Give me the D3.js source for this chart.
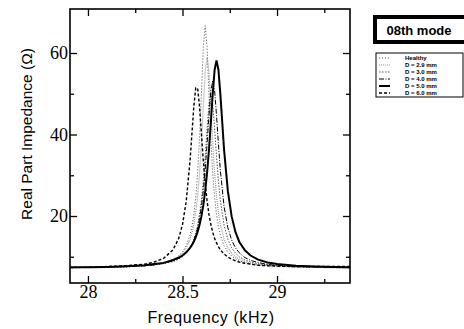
<!DOCTYPE html>
<html>
<head>
<meta charset="utf-8">
<script src="https://cdn.jsdelivr.net/npm/d3@7"></script>
<style>
  body { margin: 0; background: #fff; }
  svg { display: block; }
  .tick text { font-family: "Liberation Serif", serif; font-size: 18px; fill: #000; }
  .axis path { display: none; }
  .axis line { stroke: #000; stroke-width: 1.3; }
</style>
</head>
<body>
<div id="chart"></div>
<script>
const freq = [27.9, 28.0, 28.1, 28.2, 28.3, 28.35, 28.4, 28.45, 28.48, 28.5, 28.52, 28.54, 28.55, 28.56,
  28.57, 28.58, 28.59, 28.6, 28.61, 28.62, 28.63, 28.64, 28.65, 28.66, 28.67, 28.68, 28.69, 28.7,
  28.72, 28.74, 28.76, 28.78, 28.8, 28.83, 28.86, 28.9, 28.95, 29.0, 29.1, 29.2, 29.3, 29.4];

const healthy = [7.3, 7.4, 7.4, 7.5, 7.8, 8.0, 8.4, 9.2, 10.2, 11.2, 12.7, 15.4, 17.5, 20.4,
  24.5, 30.4, 38.9, 50.0, 61.4, 66.7, 61.4, 50.0, 38.9, 30.4, 24.5, 20.4, 17.5, 15.4,
  12.7, 11.2, 10.2, 9.5, 9.0, 8.6, 8.2, 8.0, 7.8, 7.6, 7.5, 7.4, 7.3, 7.3];
const d29 = [7.3, 7.4, 7.4, 7.6, 7.8, 8.0, 8.4, 9.2, 10.0, 10.9, 12.2, 14.3, 15.9, 18.0,
  20.9, 24.9, 30.4, 37.8, 46.8, 55.3, 59.0, 55.3, 46.8, 37.8, 30.4, 24.9, 20.9, 18.0,
  14.3, 12.2, 10.9, 10.0, 9.4, 8.8, 8.4, 8.1, 7.9, 7.7, 7.5, 7.4, 7.3, 7.3];
const d30 = [7.3, 7.4, 7.4, 7.5, 7.8, 8.0, 8.3, 8.8, 9.4, 10.0, 10.9, 12.2, 13.1, 14.3,
  15.8, 17.7, 20.4, 23.9, 28.6, 34.6, 41.4, 47.5, 50.0, 47.5, 41.4, 34.6, 28.6, 23.9,
  17.7, 14.3, 12.2, 10.9, 10.0, 9.2, 8.7, 8.3, 8.0, 7.8, 7.5, 7.4, 7.4, 7.3];
const d40 = [7.3, 7.4, 7.5, 7.6, 7.8, 8.0, 8.4, 9.0, 9.6, 10.2, 11.0, 12.2, 13.1, 14.1,
  15.4, 17.1, 19.4, 22.3, 26.2, 31.3, 37.7, 44.7, 50.7, 53.2, 50.7, 44.7, 37.7, 31.3,
  22.3, 17.1, 14.1, 12.2, 11.0, 9.8, 9.1, 8.6, 8.1, 7.9, 7.6, 7.5, 7.4, 7.3];
const d50 = [7.4, 7.4, 7.5, 7.7, 7.9, 8.2, 8.5, 9.2, 9.8, 10.3, 11.1, 12.2, 12.9, 13.7,
  14.8, 16.1, 17.8, 19.9, 22.6, 26.1, 30.6, 36.2, 43.0, 50.1, 55.9, 58.2, 55.9, 50.1,
  36.2, 26.1, 19.9, 16.1, 13.7, 11.6, 10.3, 9.3, 8.6, 8.2, 7.8, 7.6, 7.5, 7.4];
const d60 = [7.4, 7.4, 7.6, 7.8, 8.2, 8.7, 9.6, 11.7, 14.5, 17.9, 23.7, 33.6, 40.3, 46.9,
  51.4, 51.4, 46.9, 40.3, 33.6, 28.1, 23.7, 20.4, 17.9, 16.0, 14.5, 13.4, 12.5, 11.7,
  10.7, 9.9, 9.4, 9.0, 8.7, 8.4, 8.2, 7.9, 7.8, 7.7, 7.6, 7.6, 7.6, 7.6];

const seriesNames = ["Healthy", "D = 2.9 mm", "D = 3.0 mm", "D = 4.0 mm", "D = 5.0 mm", "D = 6.0 mm"];
const seriesValues = [healthy, d29, d30, d40, d50, d60];
const xMajor = [28, 28.5, 29];
const xMinor = [28.25, 28.75, 29.25];
const yMajor = [20, 40, 60];
const yMinor = [10, 30, 50];

const styles = [
  { stroke: "#444", width: 1, dash: "1,2" },
  { stroke: "#999", width: 1.2, dash: "1,1" },
  { stroke: "#555", width: 1, dash: "1.5,1.5" },
  { stroke: "#000", width: 1, dash: "5,1.5,1,1.5" },
  { stroke: "#000", width: 2, dash: null },
  { stroke: "#000", width: 1.4, dash: "3,2" }
];

const W = 464, H = 329;
const margin = { left: 70, right: 350, top: 9, bottom: 283 };

const svg = d3.select('#chart').append('svg')
  .attr('width', W)
  .attr('height', H);

const x = d3.scaleLinear().domain([27.905, 29.386]).range([margin.left, margin.right]);
const y = d3.scaleLinear().domain([3.56, 70.8]).range([margin.bottom, margin.top]);

svg.append('clipPath').attr('id', 'clip')
  .append('rect')
  .attr('x', margin.left).attr('y', margin.top)
  .attr('width', margin.right - margin.left).attr('height', margin.bottom - margin.top);

const plot = svg.append('g');

const line = d3.line()
  .x((d, i) => x(freq[i]))
  .y(d => y(d));

plot.selectAll('.curve')
  .data(seriesValues)
  .enter()
  .append('path')
  .attr('class', 'curve')
  .attr('clip-path', 'url(#clip)')
  .attr('d', d => line(d))
  .attr('fill', 'none')
  .attr('stroke', (d, i) => styles[i].stroke)
  .attr('stroke-width', (d, i) => styles[i].width)
  .attr('stroke-dasharray', (d, i) => styles[i].dash);

// axes, ticks pointing inward on all four sides
svg.append('g').attr('class', 'axis')
  .attr('transform', `translate(0, ${margin.bottom})`)
  .call(d3.axisBottom(x).tickValues(xMajor).tickSize(-7).tickPadding(2).tickFormat(d3.format('')));
svg.append('g').attr('class', 'axis')
  .attr('transform', `translate(0, ${margin.bottom})`)
  .call(d3.axisBottom(x).tickValues(xMinor).tickSize(-4).tickFormat(''));
svg.append('g').attr('class', 'axis')
  .attr('transform', `translate(0, ${margin.top})`)
  .call(d3.axisTop(x).tickValues(xMajor).tickSize(-7).tickFormat(''));
svg.append('g').attr('class', 'axis')
  .attr('transform', `translate(0, ${margin.top})`)
  .call(d3.axisTop(x).tickValues(xMinor).tickSize(-4).tickFormat(''));

svg.append('g').attr('class', 'axis')
  .attr('transform', `translate(${margin.left}, 0)`)
  .call(d3.axisLeft(y).tickValues(yMajor).tickSize(-7).tickPadding(2));
svg.append('g').attr('class', 'axis')
  .attr('transform', `translate(${margin.left}, 0)`)
  .call(d3.axisLeft(y).tickValues(yMinor).tickSize(-4).tickFormat(''));
svg.append('g').attr('class', 'axis')
  .attr('transform', `translate(${margin.right}, 0)`)
  .call(d3.axisRight(y).tickValues(yMajor).tickSize(-7).tickFormat(''));
svg.append('g').attr('class', 'axis')
  .attr('transform', `translate(${margin.right}, 0)`)
  .call(d3.axisRight(y).tickValues(yMinor).tickSize(-4).tickFormat(''));

svg.append('rect')
  .attr('x', margin.left).attr('y', margin.top)
  .attr('width', margin.right - margin.left).attr('height', margin.bottom - margin.top)
  .attr('fill', 'none').attr('stroke', '#000').attr('stroke-width', 1.6);

svg.append('text')
  .attr('x', 211).attr('y', 323)
  .attr('text-anchor', 'middle')
  .style('font-family', 'Liberation Sans, Arial, sans-serif')
  .style('font-size', '16px')
  .style('letter-spacing', '0.6px')
  .text('Frequency (kHz)');

svg.append('text')
  .attr('transform', 'translate(32, 134) rotate(-90)')
  .attr('text-anchor', 'middle')
  .style('font-family', 'Liberation Sans, Arial, sans-serif')
  .style('font-size', '15.5px')
  .text('Real Part Impedance (Ω)');

// legend title box
svg.append('rect')
  .attr('x', 375).attr('y', 17).attr('width', 92).attr('height', 25)
  .attr('fill', '#fff').attr('stroke', '#000').attr('stroke-width', 4);
svg.append('text')
  .attr('x', 419).attr('y', 34.5)
  .attr('text-anchor', 'middle')
  .style('font-family', 'Liberation Sans, Arial, sans-serif')
  .style('font-size', '13px')
  .style('font-weight', 'bold')
  .text('08th mode');

// legend
const legend = svg.append('g').attr('transform', 'translate(376, 53)');
legend.append('rect')
  .attr('width', 87).attr('height', 44)
  .attr('fill', '#fff').attr('stroke', '#000').attr('stroke-width', 1);

const entry = legend.selectAll('.entry')
  .data(seriesNames)
  .enter()
  .append('g')
  .attr('class', 'entry')
  .attr('transform', (d, i) => `translate(0, ${5 + i * 7})`);

entry.append('line')
  .attr('x1', 3).attr('x2', 14)
  .attr('stroke', (d, i) => styles[i].stroke)
  .attr('stroke-width', (d, i) => styles[i].width)
  .attr('stroke-dasharray', (d, i) => styles[i].dash);

entry.append('text')
  .attr('x', 29).attr('y', 2.2)
  .style('font-family', 'Liberation Sans, Arial, sans-serif')
  .style('font-size', '6px')
  .style('font-weight', 'bold')
  .style('fill', '#000')
  .text(d => d);
</script>
</body>
</html>
